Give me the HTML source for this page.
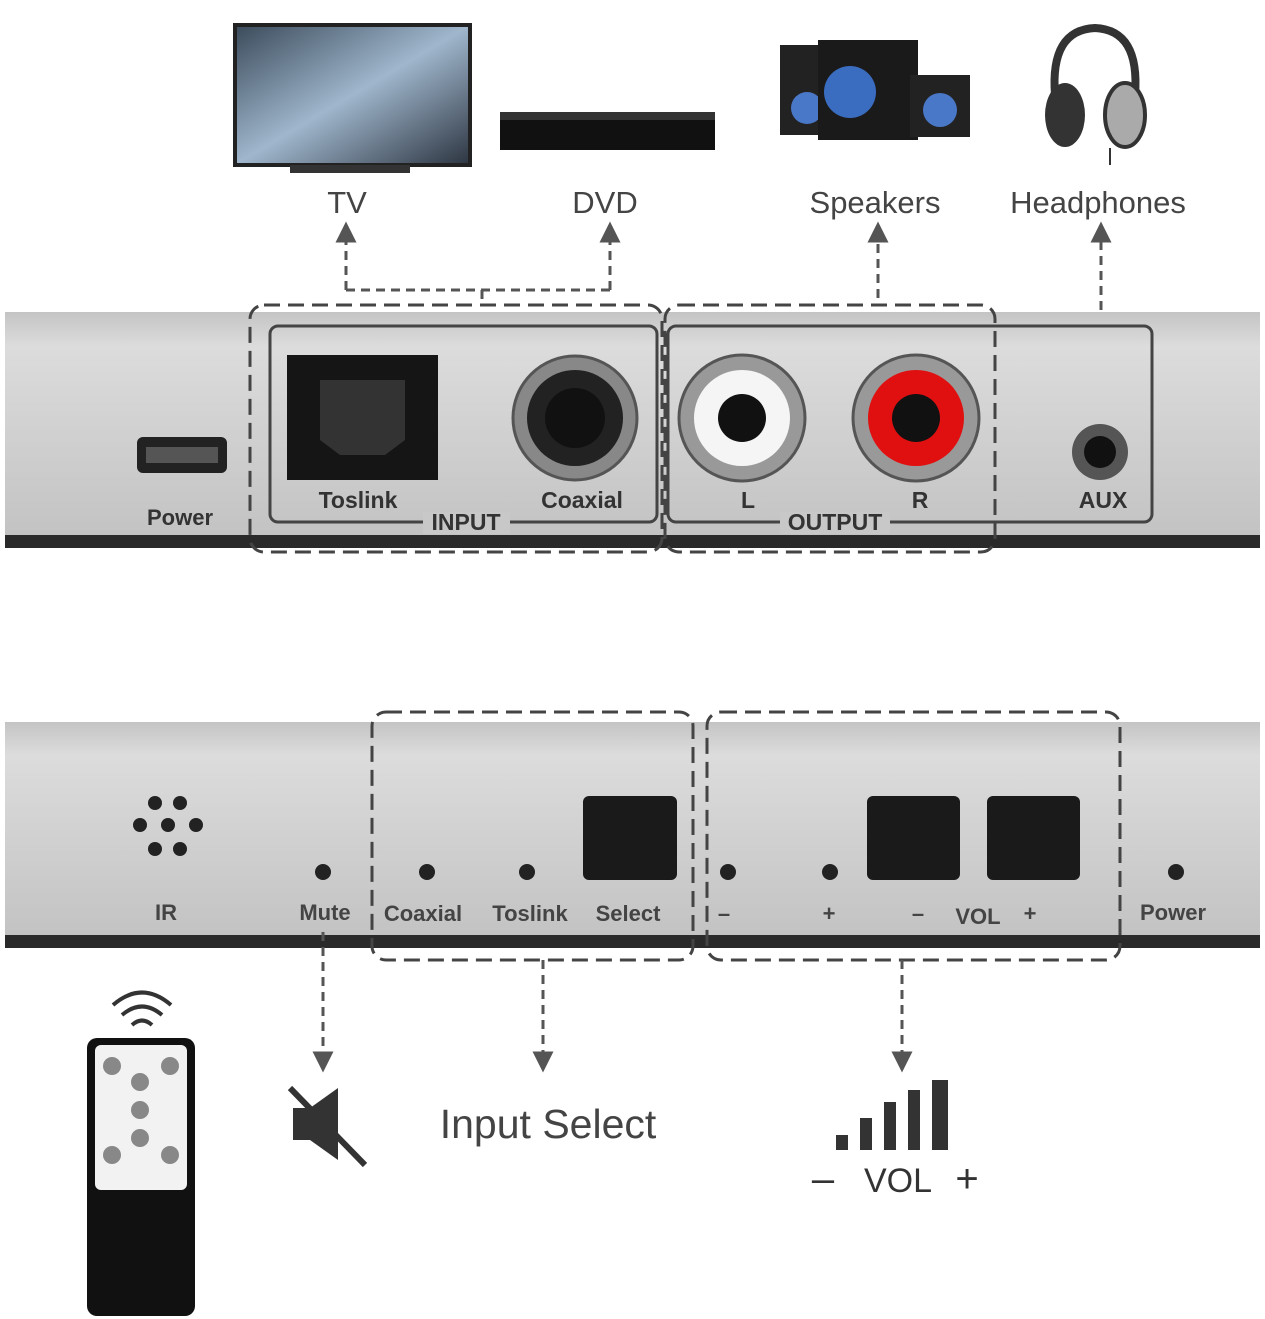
<!DOCTYPE html>
<html><head><meta charset="utf-8"><style>
html,body{margin:0;padding:0;background:#fff;}
svg{display:block;}
text{font-family:"Liberation Sans",sans-serif;}
</style></head><body>
<svg width="1265" height="1319" viewBox="0 0 1265 1319" xmlns="http://www.w3.org/2000/svg">
<defs>
<linearGradient id="pan" x1="0" y1="0" x2="0" y2="1">
<stop offset="0" stop-color="#c4c4c4"/><stop offset="0.15" stop-color="#dcdcdc"/><stop offset="1" stop-color="#c2c2c2"/></linearGradient>
<linearGradient id="tv" x1="0" y1="0" x2="1" y2="1">
<stop offset="0" stop-color="#3a4a5a"/><stop offset="0.5" stop-color="#9fb6cc"/><stop offset="1" stop-color="#2c3440"/></linearGradient>
<marker id="ar" viewBox="0 0 10 10" refX="5" refY="5" markerWidth="7" markerHeight="7" orient="auto"><path d="M0,0 L10,5 L0,10 z" fill="#555"/></marker>
</defs>

<rect x="235" y="25" width="235" height="140" fill="url(#tv)" stroke="#222" stroke-width="4"/>
<rect x="290" y="165" width="120" height="8" fill="#333"/>
<rect x="500" y="112" width="215" height="38" fill="#111"/>
<rect x="500" y="112" width="215" height="8" fill="#333"/>
<rect x="780" y="45" width="55" height="90" fill="#222"/>
<circle cx="807" cy="108" r="16" fill="#4a78c8"/>
<rect x="818" y="40" width="100" height="100" fill="#1a1a1a"/>
<circle cx="850" cy="92" r="26" fill="#3a6cc0"/>
<rect x="910" y="75" width="60" height="62" fill="#222"/>
<circle cx="940" cy="110" r="17" fill="#4a78c8"/>
<path d="M1055,95 Q1050,30 1095,28 Q1140,30 1135,95" fill="none" stroke="#333" stroke-width="8"/>
<ellipse cx="1065" cy="115" rx="20" ry="32" fill="#333"/>
<ellipse cx="1125" cy="115" rx="20" ry="32" fill="#aaa" stroke="#333" stroke-width="4"/>
<path d="M1110,148 L1110,165" stroke="#333" stroke-width="2"/>

<g font-size="31" fill="#444" text-anchor="middle">
<text x="347" y="213">TV</text><text x="605" y="213">DVD</text>
<text x="875" y="213">Speakers</text><text x="1098" y="213">Headphones</text>
</g>

<g stroke="#555" stroke-width="3" stroke-dasharray="9,6" fill="none">
<path d="M346,290 L346,232" marker-end="url(#ar)"/>
<path d="M610,290 L610,232" marker-end="url(#ar)"/>
<path d="M346,290 L610,290"/>
<path d="M482,290 L482,305"/>
<path d="M878,298 L878,232" marker-end="url(#ar)"/>
<path d="M1101,415 L1101,232" marker-end="url(#ar)"/>
</g>

<rect x="5" y="312" width="1255" height="230" fill="url(#pan)"/>
<rect x="5" y="535" width="1255" height="13" fill="#2a2a2a"/>
<rect x="137" y="437" width="90" height="36" rx="6" fill="#222"/>
<rect x="146" y="447" width="72" height="16" fill="#555"/>
<text x="180" y="525" font-size="22" font-weight="bold" fill="#333" text-anchor="middle">Power</text>
<rect x="270" y="326" width="387" height="196" rx="8" fill="none" stroke="#444" stroke-width="3"/>
<rect x="287" y="355" width="151" height="125" fill="#151515"/>
<path d="M320,380 L405,380 L405,440 L385,455 L340,455 L320,440 Z" fill="#333"/>
<circle cx="575" cy="418" r="62" fill="#888" stroke="#555" stroke-width="3"/>
<circle cx="575" cy="418" r="48" fill="#222"/>
<circle cx="575" cy="418" r="30" fill="#111"/>
<rect x="668" y="326" width="484" height="196" rx="8" fill="none" stroke="#444" stroke-width="3"/>
<circle cx="742" cy="418" r="63" fill="#999" stroke="#555" stroke-width="3"/>
<circle cx="742" cy="418" r="48" fill="#f5f5f5"/>
<circle cx="742" cy="418" r="24" fill="#111"/>
<circle cx="916" cy="418" r="63" fill="#999" stroke="#555" stroke-width="3"/>
<circle cx="916" cy="418" r="48" fill="#e01010"/>
<circle cx="916" cy="418" r="24" fill="#111"/>
<circle cx="1100" cy="452" r="28" fill="#555"/>
<circle cx="1100" cy="452" r="16" fill="#111"/>
<g font-size="23" font-weight="bold" fill="#333" text-anchor="middle">
<text x="358" y="508">Toslink</text><text x="582" y="508">Coaxial</text>
<text x="748" y="508">L</text><text x="920" y="508">R</text><text x="1103" y="508">AUX</text>
<rect x="423" y="512" width="87" height="22" fill="#c8c8c8"/>
<text x="466" y="530">INPUT</text>
<rect x="780" y="512" width="110" height="22" fill="#c8c8c8"/>
<text x="835" y="530">OUTPUT</text>
</g>
<g stroke="#444" stroke-width="3" stroke-dasharray="16,8" fill="none">
<rect x="250" y="305" width="412" height="247" rx="14"/>
<rect x="665" y="305" width="330" height="247" rx="14"/>
</g>

<rect x="5" y="722" width="1255" height="220" fill="url(#pan)"/>
<rect x="5" y="935" width="1255" height="13" fill="#2a2a2a"/>
<g fill="#222">
<circle cx="155" cy="803" r="7"/><circle cx="180" cy="803" r="7"/>
<circle cx="140" cy="825" r="7"/><circle cx="168" cy="825" r="7"/><circle cx="196" cy="825" r="7"/>
<circle cx="155" cy="849" r="7"/><circle cx="180" cy="849" r="7"/>
<circle cx="323" cy="872" r="8"/><circle cx="427" cy="872" r="8"/><circle cx="527" cy="872" r="8"/>
<circle cx="728" cy="872" r="8"/><circle cx="830" cy="872" r="8"/><circle cx="1176" cy="872" r="8"/>
</g>
<rect x="583" y="796" width="94" height="84" rx="6" fill="#1a1a1a"/>
<rect x="867" y="796" width="93" height="84" rx="6" fill="#1a1a1a"/>
<rect x="987" y="796" width="93" height="84" rx="6" fill="#1a1a1a"/>
<g font-size="22" font-weight="bold" fill="#444" text-anchor="middle">
<text x="166" y="920">IR</text><text x="325" y="920">Mute</text><text x="423" y="921">Coaxial</text>
<text x="530" y="921">Toslink</text><text x="628" y="921">Select</text><text x="724" y="921">–</text>
<text x="829" y="921">+</text><text x="918" y="921">–</text><text x="978" y="924">VOL</text>
<text x="1030" y="921">+</text><text x="1173" y="920">Power</text>
</g>
<g stroke="#444" stroke-width="3" stroke-dasharray="16,8" fill="none">
<rect x="372" y="712" width="321" height="248" rx="14"/>
<rect x="707" y="712" width="413" height="248" rx="14"/>
</g>
<g stroke="#555" stroke-width="3" stroke-dasharray="9,6" fill="none">
<path d="M323,932 L323,1062" marker-end="url(#ar)"/>
<path d="M543,960 L543,1062" marker-end="url(#ar)"/>
<path d="M902,960 L902,1062" marker-end="url(#ar)"/>
</g>

<path d="M293,1108 L310,1108 L338,1088 L338,1160 L310,1140 L293,1140 Z" fill="#333"/>
<path d="M290,1088 L365,1165" stroke="#333" stroke-width="6"/>
<text x="548" y="1138" font-size="41" fill="#444" text-anchor="middle">Input Select</text>
<g fill="#333">
<rect x="836" y="1135" width="12" height="15"/><rect x="860" y="1118" width="12" height="32"/>
<rect x="884" y="1102" width="12" height="48"/><rect x="908" y="1090" width="12" height="60"/>
<rect x="932" y="1080" width="16" height="70"/>
</g>
<g font-size="34" fill="#333" text-anchor="middle">
<text x="823" y="1192" font-size="40">–</text>
<text x="898" y="1192">VOL</text>
<text x="967" y="1192" font-size="40">+</text>
</g>

<g fill="none" stroke="#333" stroke-width="4">
<path d="M132,1025 Q142,1016 152,1025"/><path d="M122,1015 Q142,998 162,1015"/><path d="M113,1005 Q142,980 171,1005"/>
</g>
<rect x="87" y="1038" width="108" height="278" rx="10" fill="#111"/>
<rect x="95" y="1045" width="92" height="145" rx="6" fill="#f2f2f2"/>
<g fill="#888">
<circle cx="112" cy="1066" r="9"/><circle cx="170" cy="1066" r="9"/><circle cx="140" cy="1082" r="9"/>
<circle cx="140" cy="1110" r="9"/><circle cx="140" cy="1138" r="9"/>
<circle cx="112" cy="1155" r="9"/><circle cx="170" cy="1155" r="9"/>
</g>
</svg>
</body></html>
